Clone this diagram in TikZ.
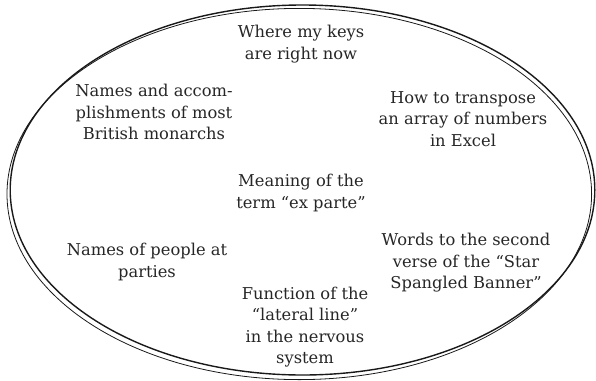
\documentclass[tikz,border=0pt]{standalone}
\usepackage{fontspec}
\setmainfont{DejaVu Serif}
\begin{document}
\begin{tikzpicture}[x=1pt,y=-1pt,
  item/.style={align=center,inner sep=0pt,font=\fontsize{16.3}{21.4}\selectfont,text=black!85},
  rimthick/.style={line width=1.4pt,black!90},
  rimthin/.style={line width=0.8pt,black!90}]
\useasboundingbox (0,0) rectangle (596,380);
% double hand-drawn outline: two slightly shifted ellipses
\draw[rimthick] (302.5,190) ellipse [x radius=292.3,y radius=185];
\draw[rimthin] (299.3,194) ellipse [x radius=292.3,y radius=185.6];
% contents
\node[item] (keys) at (301,44) {Where my keys\\are right now};
\node[item] (monarchs) at (154,112) {Names and accom-\\plishments of most\\British monarchs};
\node[item] (excel) at (463,119) {How to transpose\\an array of numbers\\in Excel};
\node[item] (exparte) at (301,193) {Meaning of the\\term “ex parte”};
\node[item] (people) at (147,262) {Names of people at\\parties};
\node[item] (banner) at (466,263) {Words to the second\\verse of the “Star\\Spangled Banner”};
\node[item] (lateral) at (305,327) {Function of the\\“lateral line”\\in the nervous\\system};
\end{tikzpicture}
\end{document}
